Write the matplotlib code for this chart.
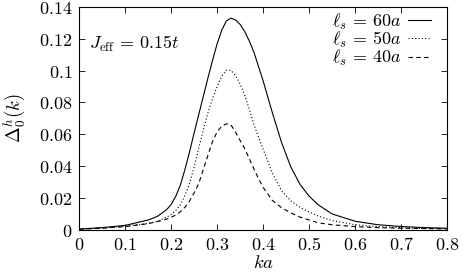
import matplotlib
matplotlib.use("Agg")
import matplotlib.pyplot as plt

plt.rcParams['mathtext.fontset'] = 'cm'
plt.rcParams['font.family'] = 'serif'
plt.rcParams['font.serif'] = ['DejaVu Serif']

# values
ka = [0, 0.05, 0.1, 0.15, 0.17, 0.19, 0.2, 0.21, 0.22, 0.23, 0.24, 0.25, 0.26,
      0.27, 0.28, 0.29, 0.30, 0.31, 0.32, 0.33, 0.34, 0.35, 0.36, 0.37, 0.38,
      0.39, 0.40, 0.42, 0.44, 0.46, 0.48, 0.50, 0.52, 0.55, 0.60, 0.65, 0.70,
      0.75, 0.80]

gap_60a = [0.0003, 0.0012, 0.0026, 0.0060, 0.0083, 0.0125, 0.0158, 0.021, 0.028,
           0.038, 0.049, 0.061, 0.0725, 0.084, 0.0955, 0.1065, 0.117, 0.1255,
           0.1312, 0.1330, 0.1318, 0.1290, 0.1245, 0.1185, 0.1115, 0.1025, 0.0935,
           0.0735, 0.0548, 0.0395, 0.0285, 0.021, 0.0155, 0.0098, 0.0052, 0.0030,
           0.0019, 0.0012, 0.0008]

gap_50a = [0.0002, 0.0010, 0.0022, 0.0038, 0.0052, 0.0078, 0.0094, 0.0120, 0.0155,
           0.0215, 0.029, 0.0395, 0.0515, 0.0628, 0.0735, 0.0825, 0.0900, 0.0965,
           0.1002, 0.1002, 0.0968, 0.0915, 0.0845, 0.0755, 0.0660, 0.058, 0.0505,
           0.0355, 0.0245, 0.0180, 0.0140, 0.0110, 0.0084, 0.0056, 0.0030, 0.0018,
           0.0011, 0.0007, 0.0005]

gap_40a = [0.0002, 0.0008, 0.0018, 0.0037, 0.0050, 0.0066, 0.0077, 0.0092, 0.0112,
           0.0140, 0.018, 0.0232, 0.029, 0.038, 0.0468, 0.0555, 0.0615, 0.0650,
           0.0665, 0.0658, 0.0612, 0.0560, 0.0508, 0.0445, 0.0380, 0.0320, 0.0265,
           0.0183, 0.0137, 0.0105, 0.0078, 0.0060, 0.0042, 0.0030, 0.0018, 0.0012,
           0.0008, 0.0006, 0.0004]

labels = [r'$\ell_s \,=\, 60a$', r'$\ell_s \,=\, 50a$', r'$\ell_s \,=\, 40a$']
styles = ['-', (0, (1, 2)), (0, (4, 3))]

x_ticks = [0, 0.1, 0.2, 0.3, 0.4, 0.5, 0.6, 0.7, 0.8]
x_labels = ['0', '0.1', '0.2', '0.3', '0.4', '0.5', '0.6', '0.7', '0.8']
y_ticks = [0, 0.02, 0.04, 0.06, 0.08, 0.1, 0.12, 0.14]
y_labels = ['0', '0.02', '0.04', '0.06', '0.08', '0.1', '0.12', '0.14']

fig = plt.figure(figsize=(4.63, 2.73), dpi=100)
ax = fig.add_axes([0.1713, 0.1593, 0.7941, 0.8151])

for y, lab, ls in zip([gap_60a, gap_50a, gap_40a], labels, styles):
    ax.plot(ka, y, color='black', linestyle=ls, linewidth=0.8, label=lab)

ax.set_xlim(0, 0.8)
ax.set_ylim(0, 0.14)
ax.set_xticks(x_ticks)
ax.set_xticklabels(['$%s$' % s for s in x_labels])
ax.set_yticks(y_ticks)
ax.set_yticklabels(['$%s$' % s for s in y_labels])
ax.tick_params(direction='in', top=True, right=True, length=4, width=0.6,
               labelsize=13, pad=5)
for sp in ax.spines.values():
    sp.set_linewidth(0.8)

ax.set_xlabel('$ka$', fontsize=13.5, labelpad=0)
ax.set_ylabel(r'$\Delta_0^h(k)$', fontsize=13.5, labelpad=8)

ax.text(0.025, 0.835, r'$J_{\rm eff} \,=\, 0.15t$', transform=ax.transAxes,
        fontsize=13, va='center', ha='left')

ax.legend(loc='upper right', frameon=False, markerfirst=False, fontsize=13,
          handlelength=1.3, handletextpad=0.35, labelspacing=-0.1,
          borderaxespad=0.1, borderpad=0.15, bbox_to_anchor=(0.97, 1.0))

fig.savefig('out.png', dpi=100)
